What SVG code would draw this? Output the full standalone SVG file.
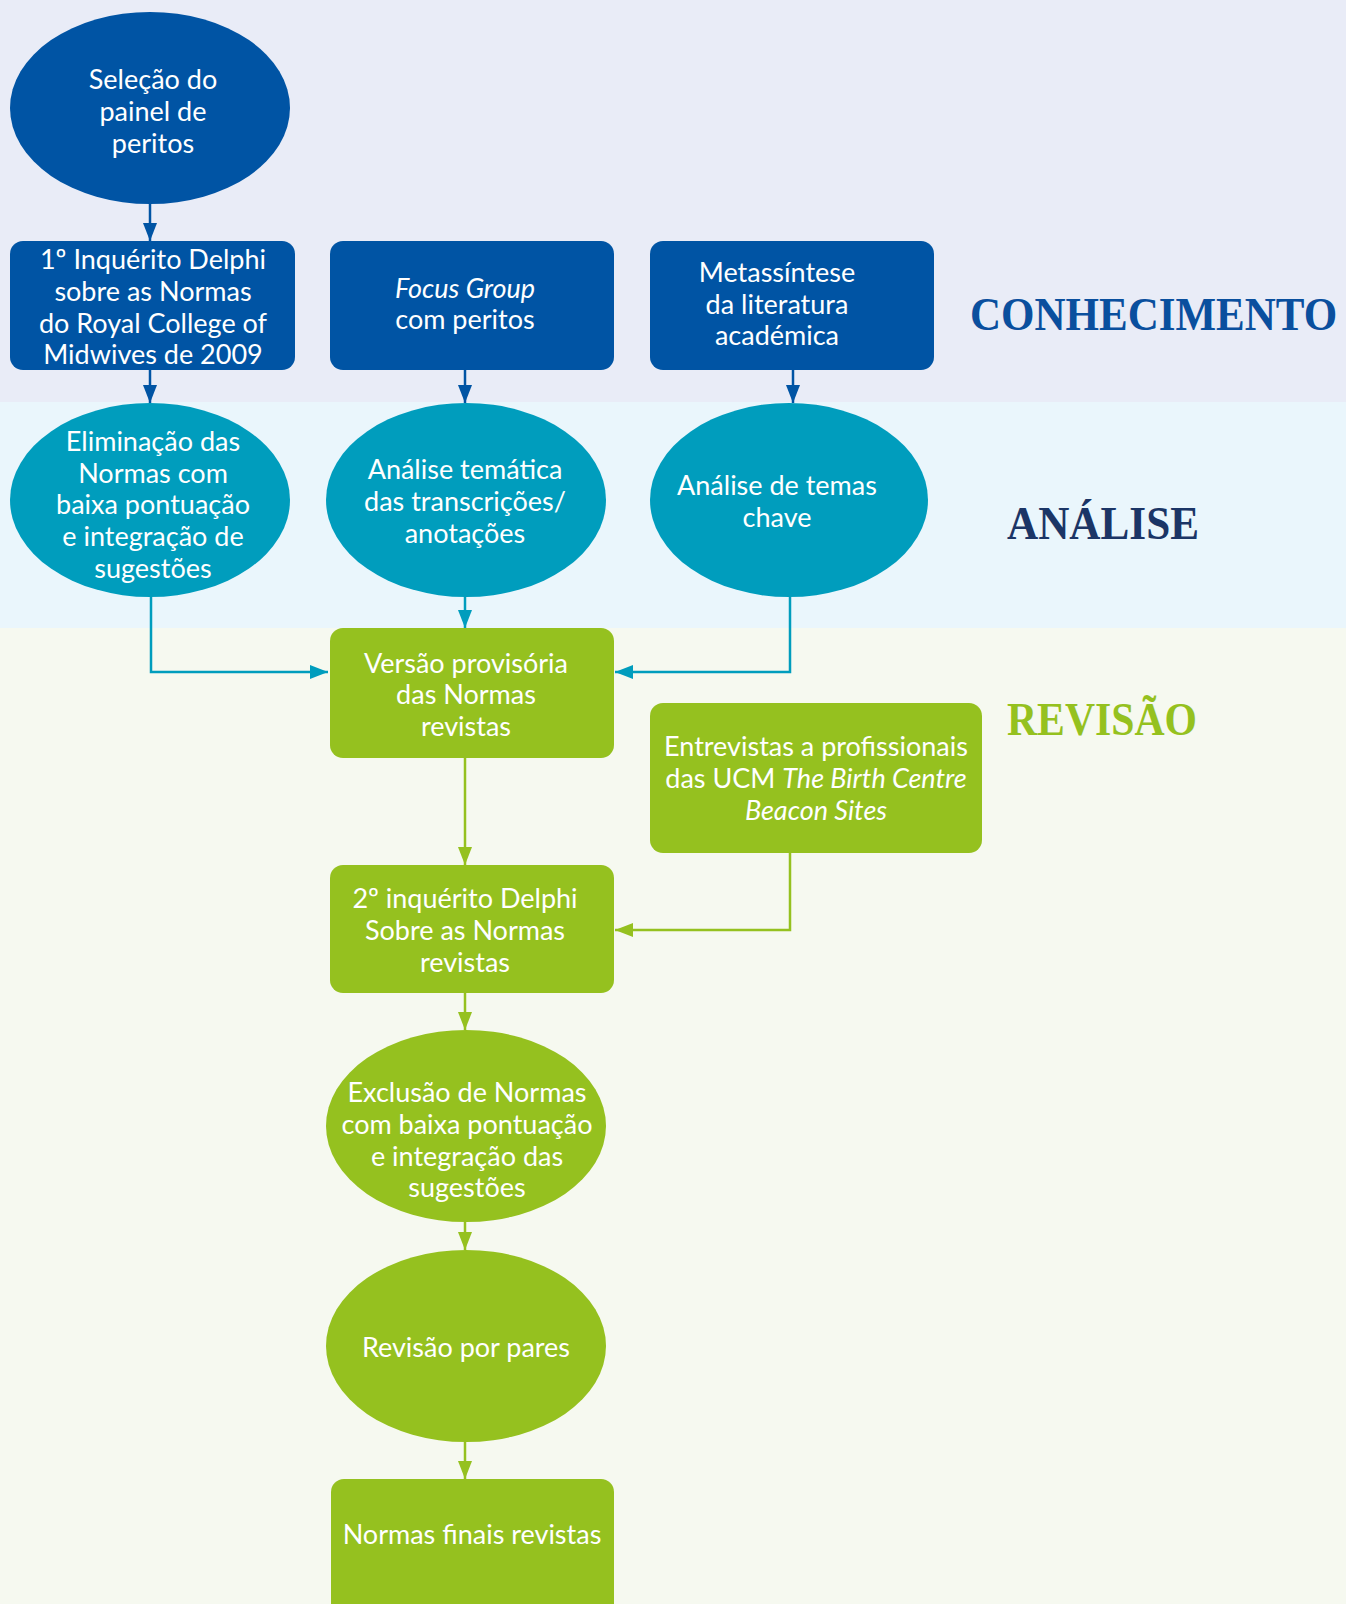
<svg xmlns="http://www.w3.org/2000/svg" width="1346" height="1604" viewBox="0 0 1346 1604">
<defs>
<style>
.t{font-family:Lato,"Open Sans","Liberation Sans",sans-serif;font-size:27px;fill:#ffffff;text-anchor:middle}
.i{font-style:italic}
.blue{fill:#0054A4}
.teal{fill:#009DBD}
.green{fill:#95C11F}
.sec{font-family:"Liberation Serif","DejaVu Serif",serif;font-weight:bold;font-size:46px}
.cb{fill:none;stroke:#0054A4;stroke-width:2.5}
.ct{fill:none;stroke:#009DBD;stroke-width:2.5}
.cg{fill:none;stroke:#95C11F;stroke-width:2.5}
</style>
<marker id="ab" markerUnits="userSpaceOnUse" markerWidth="20" markerHeight="14" refX="18" refY="7" orient="auto"><path d="M0,0 L18,7 L0,14 z" fill="#0054A4"/></marker>
<marker id="at" markerUnits="userSpaceOnUse" markerWidth="20" markerHeight="14" refX="18" refY="7" orient="auto"><path d="M0,0 L18,7 L0,14 z" fill="#009DBD"/></marker>
<marker id="ag" markerUnits="userSpaceOnUse" markerWidth="20" markerHeight="14" refX="18" refY="7" orient="auto"><path d="M0,0 L18,7 L0,14 z" fill="#95C11F"/></marker>
</defs>
<g id="bands">
<rect x="0" y="0" width="1346" height="402" fill="#E9ECF7"/>
<rect x="0" y="402" width="1346" height="226" fill="#EAF6FC"/>
<rect x="0" y="628" width="1346" height="976" fill="#F6F9F0"/>
</g>
<g id="section-labels">
<text class="sec" transform="translate(970,330) scale(0.935,1)" x="0" y="0" fill="#0A4F9E">CONHECIMENTO</text>
<text class="sec" x="1007" y="539" fill="#1B3566" textLength="192" lengthAdjust="spacingAndGlyphs">ANÁLISE</text>
<text class="sec" x="1007" y="735" fill="#95C11F" textLength="190" lengthAdjust="spacingAndGlyphs">REVISÃO</text>
</g>
<g id="connectors">
<path class="cb" d="M150 204 V241" marker-end="url(#ab)"/>
<path class="cb" d="M150 370 V403" marker-end="url(#ab)"/>
<path class="cb" d="M465 370 V403" marker-end="url(#ab)"/>
<path class="cb" d="M793 370 V403" marker-end="url(#ab)"/>
<path class="ct" d="M151 596 V672 H328" marker-end="url(#at)"/>
<path class="ct" d="M465 596 V628" marker-end="url(#at)"/>
<path class="ct" d="M790 596 V672 H615" marker-end="url(#at)"/>
<path class="cg" d="M465 758 V865" marker-end="url(#ag)"/>
<path class="cg" d="M790 853 V930 H615" marker-end="url(#ag)"/>
<path class="cg" d="M465 993 V1030" marker-end="url(#ag)"/>
<path class="cg" d="M465 1222 V1250" marker-end="url(#ag)"/>
<path class="cg" d="M465 1442 V1479" marker-end="url(#ag)"/>
</g>
<g id="n-selecao">
<ellipse class="blue" cx="150" cy="108" rx="140" ry="96"/>
<text class="t" x="153" y="89">Seleção do</text>
<text class="t" x="153" y="121">painel de</text>
<text class="t" x="153" y="153">peritos</text>
</g>
<g id="n-delphi1">
<rect class="blue" x="10" y="241" width="285" height="129" rx="13"/>
<text class="t" x="153" y="269">1º Inquérito Delphi</text>
<text class="t" x="153" y="301">sobre as Normas</text>
<text class="t" x="153" y="333">do Royal College of</text>
<text class="t" x="153" y="364">Midwives de 2009</text>
</g>
<g id="n-focus">
<rect class="blue" x="330" y="241" width="284" height="129" rx="13"/>
<text class="t i" x="465" y="298">Focus Group</text>
<text class="t" x="465" y="329">com peritos</text>
</g>
<g id="n-meta">
<rect class="blue" x="650" y="241" width="284" height="129" rx="13"/>
<text class="t" x="777" y="282">Metassíntese</text>
<text class="t" x="777" y="314">da literatura</text>
<text class="t" x="777" y="345">académica</text>
</g>
<g id="n-eliminacao">
<ellipse class="teal" cx="150" cy="500" rx="140" ry="97"/>
<text class="t" x="153" y="451">Eliminação das</text>
<text class="t" x="153" y="483">Normas com</text>
<text class="t" x="153" y="514">baixa pontuação</text>
<text class="t" x="153" y="546">e integração de</text>
<text class="t" x="153" y="578">sugestões</text>
</g>
<g id="n-tematica">
<ellipse class="teal" cx="466" cy="500" rx="140" ry="97"/>
<text class="t" x="465" y="479">Análise temática</text>
<text class="t" x="465" y="511">das transcrições/</text>
<text class="t" x="465" y="543">anotações</text>
</g>
<g id="n-temas">
<ellipse class="teal" cx="789" cy="500" rx="139" ry="97"/>
<text class="t" x="777" y="495">Análise de temas</text>
<text class="t" x="777" y="527">chave</text>
</g>
<g id="n-versao">
<rect class="green" x="330" y="628" width="284" height="130" rx="13"/>
<text class="t" x="466" y="673">Versão provisória</text>
<text class="t" x="466" y="704">das Normas</text>
<text class="t" x="466" y="736">revistas</text>
</g>
<g id="n-entrevistas">
<rect class="green" x="650" y="703" width="332" height="150" rx="13"/>
<text class="t" x="816" y="756">Entrevistas a profissionais</text>
<text class="t" x="816" y="788">das UCM <tspan class="i">The Birth Centre</tspan></text>
<text class="t i" x="816" y="820">Beacon Sites</text>
</g>
<g id="n-delphi2">
<rect class="green" x="330" y="865" width="284" height="128" rx="13"/>
<text class="t" x="465" y="908">2º inquérito Delphi</text>
<text class="t" x="465" y="940">Sobre as Normas</text>
<text class="t" x="465" y="972">revistas</text>
</g>
<g id="n-exclusao">
<ellipse class="green" cx="466" cy="1126" rx="140" ry="96"/>
<text class="t" x="467" y="1102">Exclusão de Normas</text>
<text class="t" x="467" y="1134">com baixa pontuação</text>
<text class="t" x="467" y="1166">e integração das</text>
<text class="t" x="467" y="1197">sugestões</text>
</g>
<g id="n-pares">
<ellipse class="green" cx="466" cy="1346" rx="140" ry="96"/>
<text class="t" x="466" y="1357">Revisão por pares</text>
</g>
<g id="n-finais">
<rect class="green" x="331" y="1479" width="283" height="145" rx="13"/>
<text class="t" x="472" y="1544">Normas finais revistas</text>
</g>
</svg>
